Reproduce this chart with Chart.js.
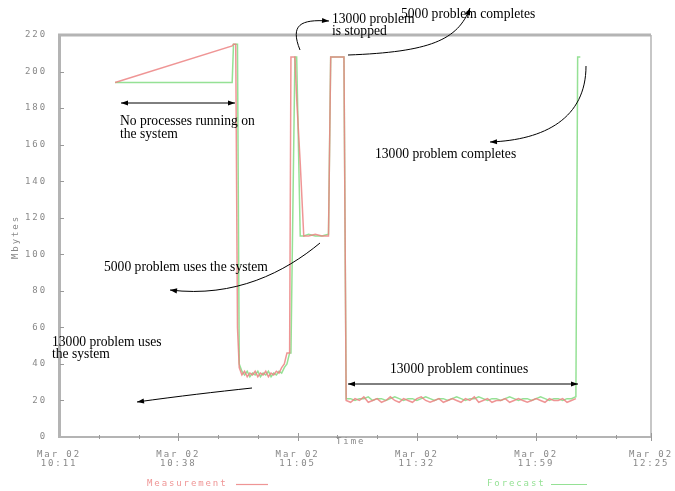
<!DOCTYPE html>
<html>
<head>
<meta charset="utf-8">
<script src="https://cdn.jsdelivr.net/npm/chart.js@4/dist/chart.umd.min.js"></script>
<style>
  html, body { margin: 0; padding: 0; background: #fff; }
  #wrap { width: 675px; height: 491px; position: relative; }
</style>
</head>
<body>
<div id="wrap"><canvas id="c" width="675" height="491"></canvas></div>
<script>
// ---- data (minutes after Mar 02 10:11) ----
const times = [12.7, 39.2, 39.5, 40.0, 40.4, 40.8, 41.4, 42.0, 42.6, 43.2,
  43.8, 44.4, 45.0, 45.6, 46.2, 46.8, 47.4, 48.0, 48.6, 49.2,
  49.8, 50.4, 51.0, 51.6, 52.2, 52.5, 53.4, 53.8, 54.6, 55.4,
  56.5, 58.0, 59.5, 61.0, 61.5, 63.0, 64.5, 65.0,
  66, 67, 68, 69, 70, 71, 72, 73, 74, 75,
  76, 77, 78, 79, 80, 81, 82, 83, 84, 85,
  86, 87, 88, 89, 90, 91, 92, 93, 94, 95,
  96, 97, 98, 99, 100, 101, 102, 103, 104, 105,
  106, 107, 108, 109, 110, 111, 112, 113, 114, 115,
  116, 117,
  117.4, 118];

const measurement = [194, 214, 215, 215, 60, 38, 34, 36, 33, 35,
  34, 36, 33, 35, 34, 36, 33, 35, 34, 36,
  35, 38, 40, 46, 46, 208, 208, 185, 150, 110,
  110, 111, 110, 110, 208, 208, 208, 20,
  19, 21, 20, 22, 19, 20, 21, 19, 20, 22,
  20, 19, 21, 20, 19, 21, 22, 20, 19, 20,
  21, 19, 20, 21, 20, 19, 21, 20, 22, 19,
  20, 21, 19, 20, 20, 21, 19, 20, 21, 20,
  19, 20, 21, 20, 19, 21, 20, 20, 21, 19,
  20, 21,
  null, null];

const forecast = [194, 194, 215, 215, 215, 40, 36, 34, 36, 33,
  35, 34, 36, 33, 35, 34, 36, 33, 35, 34,
  36, 35, 38, 40, 46, 46, 208, 208, 110, 110,
  111, 110, 110, 111, 208, 208, 208, 21,
  21, 20, 21, 21, 22, 20, 21, 21, 20, 21,
  22, 21, 20, 21, 21, 20, 21, 22, 21, 20,
  21, 21, 20, 21, 22, 21, 20, 21, 21, 22,
  21, 20, 21, 21, 20, 21, 22, 21, 20, 21,
  21, 20, 21, 22, 21, 20, 21, 21, 20, 21,
  21, 22,
  208, 208];

const xTickMinutes = [0, 27, 54, 81, 108, 134];
const xTickDates = ["Mar 02", "Mar 02", "Mar 02", "Mar 02", "Mar 02", "Mar 02"];
const xTickTimes = ["10:11", "10:38", "11:05", "11:32", "11:59", "12:25"];
const xMinorMinutes = [9, 18, 36, 45, 63, 72, 90, 99, 117, 126];
const yTicks = [0, 20, 40, 60, 80, 100, 120, 140, 160, 180, 200, 220];

const seriesNames = ["Measurement", "Forecast"];
const yTitle = "Mbytes";
const xTitle = "Time";

const MEAS_COLOR = "rgba(236,130,130,0.85)";
const FCST_COLOR = "rgba(130,220,130,0.85)";
const AXIS_COLOR = "#b4b4b4";
const TICK_FONT = { family: "'DejaVu Sans Mono', monospace", size: 9, lineHeight: 1 };
const SPACING = "1.9px";
const NOTE_FONT = "13.6px 'Liberation Serif', 'Times New Roman', serif";

function arrowHead(ctx, x, y, fromX, fromY) {
  const a = Math.atan2(y - fromY, x - fromX);
  const L = 7, W = 2.6;
  ctx.beginPath();
  ctx.moveTo(x, y);
  ctx.lineTo(x - L * Math.cos(a) + W * Math.sin(a), y - L * Math.sin(a) - W * Math.cos(a));
  ctx.lineTo(x - L * Math.cos(a) - W * Math.sin(a), y - L * Math.sin(a) + W * Math.cos(a));
  ctx.closePath();
  ctx.fill();
}
function curveArrow(ctx, p0, c1, c2, p1) {
  ctx.beginPath();
  ctx.moveTo(p0[0], p0[1]);
  ctx.bezierCurveTo(c1[0], c1[1], c2[0], c2[1], p1[0], p1[1]);
  ctx.stroke();
  arrowHead(ctx, p1[0], p1[1], c2[0], c2[1]);
}
function doubleArrow(ctx, x0, x1, y) {
  ctx.beginPath();
  ctx.moveTo(x0, y); ctx.lineTo(x1, y); ctx.stroke();
  arrowHead(ctx, x0, y, x1, y);
  arrowHead(ctx, x1, y, x0, y);
}

const spacingPlugin = {
  id: "spacing",
  beforeUpdate(chart) { chart.ctx.letterSpacing = SPACING; },
  beforeDraw(chart) { chart.ctx.letterSpacing = SPACING; }
};

const decor = {
  id: "decor",
  afterDraw(chart) {
    const ctx = chart.ctx;
    const ca = chart.chartArea;
    const xs = chart.scales.x, ys = chart.scales.y;
    ctx.save();
    // frame top and right
    ctx.strokeStyle = AXIS_COLOR;
    ctx.lineWidth = 3;
    ctx.beginPath();
    ctx.moveTo(ca.left - 1, ca.top);
    ctx.lineTo(ca.right, ca.top);
    ctx.stroke();
    ctx.lineWidth = 1.5;
    ctx.beginPath();
    ctx.moveTo(ca.right, ca.top);
    ctx.lineTo(ca.right, ca.bottom);
    ctx.stroke();
    // y tick marks (inside)
    ctx.strokeStyle = "#999";
    ctx.lineWidth = 1;
    yTicks.forEach(v => {
      if (v === 0 || v === 220) return;
      const y = Math.round(ys.getPixelForValue(v)) + 0.5;
      ctx.beginPath(); ctx.moveTo(ca.left + 1, y); ctx.lineTo(ca.left + 5, y); ctx.stroke();
    });
    // x tick marks
    xTickMinutes.forEach((m, i) => {
      if (i === 0) return;
      const x = Math.round(xs.getPixelForValue(m)) + 0.5;
      ctx.beginPath(); ctx.moveTo(x, ca.bottom - 4); ctx.lineTo(x, ca.bottom + 4); ctx.stroke();
    });
    xMinorMinutes.forEach(m => {
      const x = Math.round(xs.getPixelForValue(m)) + 0.5;
      ctx.beginPath(); ctx.moveTo(x, ca.bottom - 2); ctx.lineTo(x, ca.bottom + 2); ctx.stroke();
    });
    // axis titles
    ctx.letterSpacing = SPACING;
    ctx.fillStyle = "#888";
    ctx.font = "9px 'DejaVu Sans Mono', monospace";
    ctx.textBaseline = "middle";
    ctx.textAlign = "left";
    ctx.fillText(xTitle, 336, 442);
    ctx.save();
    ctx.translate(16, 237);
    ctx.rotate(-Math.PI / 2);
    ctx.textAlign = "center";
    ctx.fillText(yTitle, 0, 0);
    ctx.restore();
    // legend
    ctx.textAlign = "left";
    ctx.fillStyle = MEAS_COLOR;
    ctx.fillText(seriesNames[0], 147, 484);
    ctx.strokeStyle = MEAS_COLOR; ctx.lineWidth = 1.2;
    ctx.beginPath(); ctx.moveTo(236, 484.5); ctx.lineTo(268, 484.5); ctx.stroke();
    ctx.fillStyle = FCST_COLOR;
    ctx.fillText(seriesNames[1], 487, 484);
    ctx.strokeStyle = FCST_COLOR;
    ctx.beginPath(); ctx.moveTo(551, 484.5); ctx.lineTo(587, 484.5); ctx.stroke();

    // annotations
    ctx.letterSpacing = "0px";
    ctx.fillStyle = "#000";
    ctx.strokeStyle = "#000";
    ctx.lineWidth = 1;
    ctx.font = NOTE_FONT;
    ctx.textBaseline = "alphabetic";
    ctx.textAlign = "left";
    ctx.fillText("No processes running on", 120, 125);
    ctx.fillText("the system", 120, 138);
    doubleArrow(ctx, 121, 235, 103);

    ctx.fillText("13000 problem", 332, 23);
    ctx.fillText("is stopped", 332, 35);
    curveArrow(ctx, [300, 50], [290, 25], [300, 19], [329, 21]);

    ctx.fillText("5000 problem completes", 401, 18);
    curveArrow(ctx, [348, 55], [430, 52], [458, 40], [470, 8]);

    ctx.fillText("13000 problem completes", 375, 158);
    curveArrow(ctx, [586, 66], [586, 118], [545, 140], [490, 142]);

    ctx.fillText("5000 problem uses the system", 104, 271);
    curveArrow(ctx, [320, 243], [285, 272], [235, 298], [170, 290]);

    ctx.fillText("13000 problem uses", 52, 346);
    ctx.fillText("the system", 52, 358);
    curveArrow(ctx, [252, 388], [215, 392], [180, 396], [137, 402]);

    ctx.fillText("13000 problem continues", 390, 373);
    doubleArrow(ctx, 348, 578, 384);
    ctx.restore();
  }
};

const mkData = vals => times.map((t, i) => ({ x: t, y: vals[i] }));

new Chart(document.getElementById("c"), {
  type: "line",
  data: {
    datasets: [
      { label: seriesNames[0], data: mkData(measurement), borderColor: MEAS_COLOR,
        borderWidth: 1.5, pointRadius: 0, tension: 0, fill: false, spanGaps: false },
      { label: seriesNames[1], data: mkData(forecast), borderColor: FCST_COLOR,
        borderWidth: 1.5, pointRadius: 0, tension: 0, fill: false, spanGaps: false }
    ]
  },
  options: {
    responsive: false,
    animation: false,
    events: [],
    layout: { padding: { top: 35, right: 24, left: 0, bottom: 0 } },
    plugins: { legend: { display: false }, tooltip: { enabled: false } },
    scales: {
      x: {
        type: "linear", min: 0, max: 134,
        afterBuildTicks: s => { s.ticks = xTickMinutes.map(v => ({ value: v })); },
        afterFit: s => { s.height = 54; s.paddingRight = 0; s.paddingLeft = 0; },
        ticks: {
          autoSkip: false, maxRotation: 0, padding: 5, color: "#888", font: TICK_FONT,
          callback: (v) => { const i = xTickMinutes.indexOf(v); return i < 0 ? "" : [xTickDates[i], xTickTimes[i]]; }
        },
        grid: { display: false },
        border: { display: true, color: AXIS_COLOR, width: 2 }
      },
      y: {
        min: 0, max: 220,
        afterBuildTicks: s => { s.ticks = yTicks.map(v => ({ value: v })); },
        afterFit: s => { s.width = 59; },
        ticks: { padding: 4, color: "#888", font: TICK_FONT },
        grid: { display: false },
        border: { display: true, color: AXIS_COLOR, width: 3 }
      }
    }
  },
  plugins: [spacingPlugin, decor]
});
</script>
</body>
</html>
